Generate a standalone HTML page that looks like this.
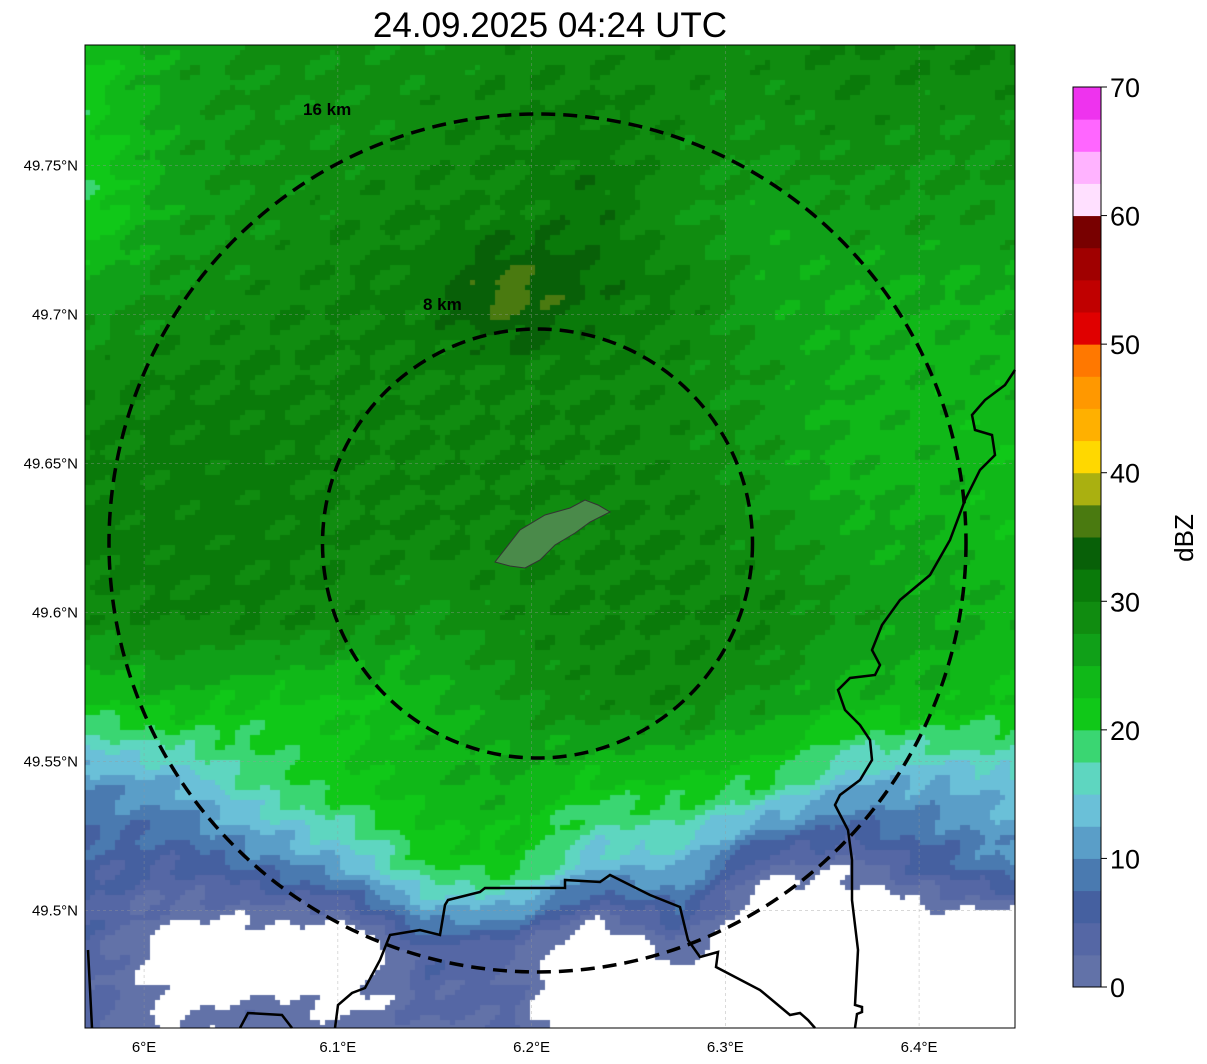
<!DOCTYPE html>
<html><head><meta charset="utf-8"><style>
body{margin:0;background:#fff;width:1207px;height:1064px;overflow:hidden;font-family:"Liberation Sans",sans-serif}
#wrap{position:relative;width:1207px;height:1064px}
canvas{position:absolute;left:85px;top:45px}
svg{position:absolute;left:0;top:0}
</style></head><body>
<div id="wrap">
<canvas id="cv" width="930" height="983"></canvas>
<svg id="sv" width="1207" height="1064"></svg>
</div>
<script>
// dBZ bins (2.5 dBZ each, 0..70)
const binColors=["#6272a8","#5567a5","#4560a0","#4a7ab0","#5a9ec8","#6ac0d8","#5ed6c0","#3ad672","#10c818","#10b818","#10a018","#108c10","#0a7a0a","#086008","#4a7a10","#aab010","#ffd800","#ffb000","#ff9800","#ff7800","#e00000","#c00000","#a00000","#780000","#ffe0ff","#ffb3ff","#ff66ff","#ee33ee"];
const cbTicks=[0,10,20,30,40,50,60,70];
// coarse dBZ grid sampled across the map (rows top->bottom, cols left->right); negative = no echo
const row0=[22,26,28,28,28,29,29,29,29,30,30,30];
const row1=[21,26,28,28,29,30,31,29,28,29,28,28];
const row2=[20,26,28,29,30,30,32,28,26,27,27,27];
const row3=[26,28,29,30,31,37,32,30,26,25,25,25];
const row4=[29,30,30,30,30,30,30,29,27,25,24,24];
const row5=[30,31,31,30,30,30,30,29,27,24,24,23];
const row6=[31,31,31,30,30,30,30,30,28,26,25,23];
const row7=[29,30,30,29,27,29,30,30,30,27,26,24];
const row8=[22,24,22,22,24,27,29,29,27,24,24,22];
const row9=[10,12,18,22,24,25,22,22,20,13,12,14];
const row10=[6,5,8,12,20,22,13,13,2,1,6,10];
const row11=[4,-2,-4,-6,5,3,-6,2,-8,-8,-6,-8];
const row12=[4,-1,3,1,2,3,-6,-6,-8,-8,-8,-8];
const grid=[row0,row1,row2,row3,row4,row5,row6,row7,row8,row9,row10,row11,row12];
const xTicks=[6.0,6.1,6.2,6.3,6.4];
const xTickLabels=["6°E","6.1°E","6.2°E","6.3°E","6.4°E"];
const yTicks=[49.75,49.7,49.65,49.6,49.55,49.5];
const yTickLabels=["49.75°N","49.7°N","49.65°N","49.6°N","49.55°N","49.5°N"];

// axes
const X0=85,X1=1015,Y0=45,Y1=1028;
const lon0=5.9695,lon1=6.4495,lat0=49.4605,lat1=49.7905;
const sx=v=>X0+(v-lon0)/(lon1-lon0)*(X1-X0);
const sy=v=>Y1-(v-lat0)/(lat1-lat0)*(Y1-Y0);
const cbY=v=>987-v/70*900;

const cv=document.getElementById('cv'),ctx=cv.getContext('2d');
const W=930,H=983,nr=grid.length,nc=grid[0].length;
function val(px,py){const gx=px/W*(nc-1),gy=py/H*(nr-1);
 const i=Math.min(nc-2,Math.floor(gx)),j=Math.min(nr-2,Math.floor(gy));const fx=gx-i,fy=gy-j;
 return grid[j][i]*(1-fx)*(1-fy)+grid[j][i+1]*fx*(1-fy)+grid[j+1][i]*(1-fx)*fy+grid[j+1][i+1]*fx*fy;}
const S=5;
for(let y=0;y<H;y+=S)for(let x=0;x<W;x+=S){
 const v=val(x,y)+1.5*Math.sin((x*0.7+y*1.1)/9)*Math.cos((x-y)/23);
 if(v<0)continue;const b=Math.min(27,Math.floor(v/2.5));
 ctx.fillStyle=binColors[b];ctx.fillRect(x,y,S,S);}

const NS='http://www.w3.org/2000/svg',sv=document.getElementById('sv');
function el(t,a,p){const e=document.createElementNS(NS,t);for(const k in a)e.setAttribute(k,a[k]);(p||sv).appendChild(e);return e;}
xTicks.forEach((t,i)=>{const g=el('line',{x1:sx(t),x2:sx(t),y1:Y0,y2:Y1,stroke:'#999','stroke-width':0.6,'stroke-dasharray':'3,3',opacity:0.6});

const l=el('text',{x:sx(t),y:1052,'font-size':15,'text-anchor':'middle',fill:'#000'});l.textContent=xTickLabels[i];
});
yTicks.forEach((t,i)=>{const g=el('line',{x1:X0,x2:X1,y1:sy(t),y2:sy(t),stroke:'#999','stroke-width':0.6,'stroke-dasharray':'3,3',opacity:0.6});

const l=el('text',{x:78,y:sy(t)+5,'font-size':15,'text-anchor':'end',fill:'#000'});l.textContent=yTickLabels[i];
});
</script>
<svg width="1207" height="1064" style="position:absolute;left:0;top:0">
<path d="M495,562 L520,530 L545,515 L570,508 L585,500 L598,505 L610,512 L590,522 L575,533 L555,545 L540,560 L525,568 L510,566 Z" fill="#4a8a4a" stroke="#333" stroke-width="1"/>
<path d="M1015,370 L1005,385 L985,400 L972,415 L975,430 L992,435 L995,455 L980,470 L965,500 L950,540 L930,575 L900,600 L882,625 L872,650 L880,665 L875,675 L850,678 L838,690 L845,710 L860,725 L870,740 L872,760 L860,780 L840,795 L835,805 L848,830 L852,860 L852,900 L858,950 L855,1005 L862,1007 L862,1012 L857,1014 L855,1028" fill="none" stroke="#000" stroke-width="2.5"/>
<path d="M335,1028 L338,1005 L352,993 L365,988 L380,960 L390,935 L420,930 L440,935 L445,905 L448,900 L480,892 L485,888 L565,888 L565,880 L600,882 L610,875 L650,895 L680,907 L688,940 L700,957 L718,952 L716,967 L760,990 L790,1015 L800,1013 L808,1020 L815,1028" fill="none" stroke="#000" stroke-width="2.5"/>
<path d="M88,950 L92,1028 M240,1028 L248,1013 L282,1015 L292,1028" fill="none" stroke="#000" stroke-width="2.5"/>
<ellipse cx="537.5" cy="543" rx="428.5" ry="429" fill="none" stroke="#000" stroke-width="3.5" stroke-dasharray="14,8"/>
<ellipse cx="537.5" cy="543.5" rx="215" ry="214.5" fill="none" stroke="#000" stroke-width="3.5" stroke-dasharray="14,8"/>
<text x="303" y="115" font-size="17" font-weight="bold" fill="#000">16 km</text>
<text x="423" y="310" font-size="17" font-weight="bold" fill="#000">8 km</text>
<rect x="85" y="45" width="930" height="983" fill="none" stroke="#000" stroke-width="1"/>
<text x="550" y="37" font-size="35" text-anchor="middle" fill="#000">24.09.2025 04:24 UTC</text>
<g id="cb"></g>
<text x="1193" y="538" font-size="26" text-anchor="middle" fill="#000" transform="rotate(-90 1193 538)">dBZ</text>
</svg>
<script>
(function(){const NS='http://www.w3.org/2000/svg',cb=document.getElementById('cb');
binColors.forEach((c,i)=>{const r=document.createElementNS(NS,'rect');
r.setAttribute('x',1073);r.setAttribute('y',cbY((i+1)*2.5));r.setAttribute('width',28);r.setAttribute('height',cbY(i*2.5)-cbY((i+1)*2.5)+0.5);r.setAttribute('fill',c);


cb.appendChild(r);});
const f=document.createElementNS(NS,'rect');f.setAttribute('x',1073);f.setAttribute('y',87);f.setAttribute('width',28);f.setAttribute('height',900);f.setAttribute('fill','none');f.setAttribute('stroke','#000');


cb.appendChild(f);
cbTicks.forEach(t=>{const l=document.createElementNS(NS,'line');l.setAttribute('x1',1101);l.setAttribute('x2',1107);l.setAttribute('y1',cbY(t));l.setAttribute('y2',cbY(t));l.setAttribute('stroke','#000');


cb.appendChild(l);
const tx=document.createElementNS(NS,'text');tx.setAttribute('x',1110);tx.setAttribute('y',cbY(t)+10);tx.setAttribute('font-size',27);tx.textContent=t;


cb.appendChild(tx);});})();
</script>
</body></html>
